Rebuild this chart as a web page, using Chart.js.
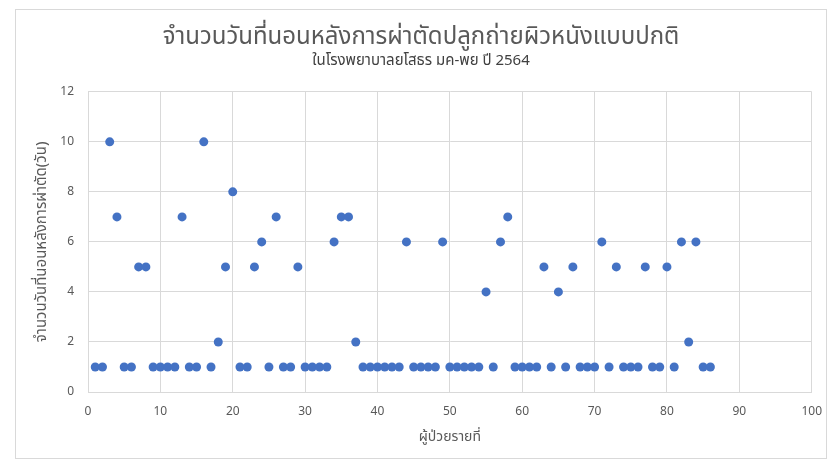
<!DOCTYPE html>
<html>
<head>
<meta charset="utf-8">
<script src="https://cdn.jsdelivr.net/npm/chart.js@4"></script>
<style>
  html, body { margin: 0; padding: 0; background: #ffffff; }
  #wrap { position: relative; width: 834px; height: 466px; }
</style>
</head>
<body>
<div id="wrap"><canvas id="chart" width="834" height="466"></canvas></div>
<script>
// Patient sequence numbers (x) and post-operative length of stay in days (y)
const patientNo = [
  1, 2, 3, 4, 5, 6, 7, 8, 9, 10,
  11, 12, 13, 14, 15, 16, 17, 18, 19, 20,
  21, 22, 23, 24, 25, 26, 27, 28, 29, 30,
  31, 32, 33, 34, 35, 36, 37, 38, 39, 40,
  41, 42, 43, 44, 45, 46, 47, 48, 49, 50,
  51, 52, 53, 54, 55, 56, 57, 58, 59, 60,
  61, 62, 63, 64, 65, 66, 67, 68, 69, 70,
  71, 72, 73, 74, 75, 76, 77, 78, 79, 80,
  81, 82, 83, 84, 85, 86
];
const stayDays = [
  1, 1, 10, 7, 1, 1, 5, 5, 1, 1,
  1, 1, 7, 1, 1, 10, 1, 2, 5, 8,
  1, 1, 5, 6, 1, 7, 1, 1, 5, 1,
  1, 1, 1, 6, 7, 7, 2, 1, 1, 1,
  1, 1, 1, 6, 1, 1, 1, 1, 6, 1,
  1, 1, 1, 1, 4, 1, 6, 7, 1, 1,
  1, 1, 5, 1, 4, 1, 5, 1, 1, 1,
  6, 1, 5, 1, 1, 1, 5, 1, 1, 5,
  1, 6, 2, 6, 1, 1
];

const titleText = 'จำนวนวันที่นอนหลังการผ่าตัดปลูกถ่ายผิวหนังแบบปกติ';
const subtitleText = 'ในโรงพยาบาลยโสธร มค-พย ปี 2564';
const xTitle = 'ผู้ป่วยรายที่';
const yTitle = 'จำนวนวันที่นอนหลังการผ่าตัด(วัน)';

const points = patientNo.map((x, i) => ({ x: x, y: stayDays[i] }));

const textColor = '#595959';
const gridColor = '#d9d9d9';
const fontFamily = "'Noto Sans', 'Noto Sans Thai', 'Liberation Sans', sans-serif";

// Thin frame around the whole chart
const frame = {
  id: 'frame',
  afterDraw(chart) {
    const ctx = chart.ctx;
    ctx.save();
    ctx.strokeStyle = gridColor;
    ctx.lineWidth = 1;
    ctx.strokeRect(15.5, 9.5, 811, 449);
    ctx.restore();
  }
};

new Chart(document.getElementById('chart'), {
  type: 'scatter',
  data: {
    datasets: [{
      data: points,
      backgroundColor: '#4472C4',
      borderColor: '#4472C4',
      pointRadius: 4.5,
      pointHoverRadius: 4.5,
      borderWidth: 0
    }]
  },
  options: {
    responsive: false,
    animation: false,
    layout: { padding: { left: 30, right: 22, top: 0, bottom: 18 } },
    plugins: {
      legend: { display: false },
      tooltip: { enabled: false },
      title: {
        display: true,
        text: titleText,
        color: textColor,
        font: { family: fontFamily, size: 24, weight: 'normal' },
        padding: { top: 23, bottom: 0 }
      },
      subtitle: {
        display: true,
        text: subtitleText,
        color: '#404040',
        font: { family: fontFamily, size: 15, weight: 'normal' },
        padding: { top: 0, bottom: 22 }
      }
    },
    scales: {
      x: {
        type: 'linear',
        min: 0,
        max: 100,
        ticks: {
          stepSize: 10,
          color: textColor,
          padding: 12,
          font: { family: fontFamily, size: 12 }
        },
        grid: { color: gridColor, drawTicks: false },
        border: { color: gridColor },
        title: {
          display: true,
          text: xTitle,
          color: textColor,
          font: { family: fontFamily, size: 14 },
          padding: { top: 4, bottom: 3 }
        },
        afterFit(scale) { scale.height = 56; }
      },
      y: {
        type: 'linear',
        min: 0,
        max: 12,
        ticks: {
          stepSize: 2,
          color: textColor,
          padding: 14,
          font: { family: fontFamily, size: 12 }
        },
        grid: { color: gridColor, drawTicks: false },
        border: { color: gridColor },
        title: {
          display: true,
          text: yTitle,
          color: textColor,
          font: { family: fontFamily, size: 15 },
          padding: { top: 3, bottom: 0 }
        },
        afterFit(scale) { scale.width = 58; }
      }
    }
  },
  plugins: [frame]
});
</script>
</body>
</html>
